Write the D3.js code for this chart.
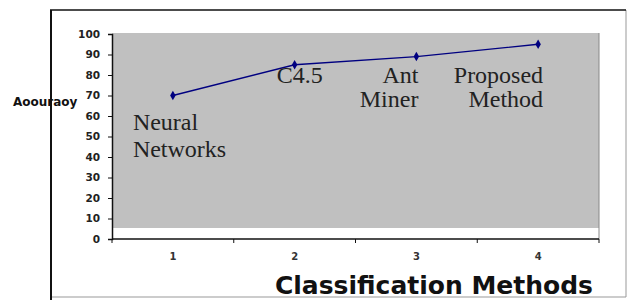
<!DOCTYPE html>
<html lang="en">
<head>
<meta charset="UTF-8">
<title>Accuracy by classification method</title>
<script src="https://d3js.org/d3.v7.min.js"></script>
<style>
  body { margin: 0; background: #fff; }
  svg { display: block; }
</style>
</head>
<body>
<svg></svg>
<script>
    // data
    const methods = [1, 2, 3, 4];
    const accuracy = [70, 85, 89, 95];
    const methodNames = [["Neural", "Networks"], ["C4.5"], ["Ant", "Miner"], ["Proposed", "Method"]];
    const yTicks = [0, 10, 20, 30, 40, 50, 60, 70, 80, 90, 100];

    let width = 627, height = 300;
    let svg = d3.select("svg").attr("width", width).attr("height", height);
    const sans = "'DejaVu Sans', Verdana, sans-serif";
    const serif = "'Liberation Serif', Tinos, 'Times New Roman', 'DejaVu Serif', serif";

    // outer frame
    svg.append("line").attr("x1", 626).attr("y1", 10).attr("x2", 626).attr("y2", 297)
        .attr("stroke", "#999").attr("stroke-width", 1);
    svg.append("line").attr("x1", 50).attr("y1", 297).attr("x2", 626).attr("y2", 297)
        .attr("stroke", "#999").attr("stroke-width", 1);
    svg.append("line").attr("x1", 50).attr("y1", 10).attr("x2", 626).attr("y2", 10)
        .attr("stroke", "#111").attr("stroke-width", 1.5);
    svg.append("line").attr("x1", 51).attr("y1", 10).attr("x2", 51).attr("y2", 300)
        .attr("stroke", "#111").attr("stroke-width", 2);

    let pLeft = 112, pRight = 599, pTop = 34, pBottom = 239;

    let x = d3.scaleBand().domain(methods).range([pLeft, pRight]);
    let y = d3.scaleLinear().domain([0, 100]).range([pBottom, pTop]);

    // plot area (grey stops a little above the axis)
    svg.append("rect")
        .attr("x", pLeft).attr("y", pTop - 1)
        .attr("width", pRight - pLeft).attr("height", 228 - pTop + 1)
        .attr("fill", "#c0c0c0");
    svg.append("line").attr("x1", pRight).attr("y1", pTop - 1).attr("x2", pRight).attr("y2", pBottom)
        .attr("stroke", "#888");

    // y axis
    let yAxis = svg.append("g")
        .attr("transform", "translate(" + pLeft + ",0)")
        .call(d3.axisLeft(y).tickValues(yTicks).tickSize(4).tickPadding(8));
    yAxis.select(".domain").attr("stroke", "#111").attr("stroke-width", 1.5);
    yAxis.selectAll(".tick line").attr("stroke", "#111");
    yAxis.selectAll(".tick text")
        .attr("font-family", sans)
        .attr("font-weight", "bold").attr("font-size", 10.5).attr("fill", "#222");

    // x axis: ticks at band edges, labels at band centres
    let xAxis = svg.append("g").attr("transform", "translate(0," + pBottom + ")");
    xAxis.append("line").attr("x1", pLeft).attr("x2", pRight)
        .attr("stroke", "#111").attr("stroke-width", 1.5);
    xAxis.selectAll("line.tk")
        .data(methods.concat(["end"]))
        .enter().append("line")
        .attr("class", "tk")
        .attr("x1", d => d === "end" ? pRight : x(d))
        .attr("x2", d => d === "end" ? pRight : x(d))
        .attr("y1", 0).attr("y2", 4)
        .attr("stroke", "#111");
    xAxis.selectAll("text")
        .data(methods)
        .enter().append("text")
        .attr("x", d => x(d) + x.bandwidth() / 2)
        .attr("y", 21)
        .attr("text-anchor", "middle")
        .attr("font-family", sans)
        .attr("font-weight", "bold").attr("font-size", 10).attr("fill", "#333")
        .text(d => d);

    // axis titles
    svg.append("text")
        .attr("x", 13).attr("y", 106)
        .attr("font-family", sans)
        .attr("font-weight", "bold").attr("font-size", 12).attr("fill", "#111")
        .text("Aoouraoy");
    svg.append("text")
        .attr("x", 593).attr("y", 294)
        .attr("text-anchor", "end")
        .attr("font-family", sans)
        .attr("font-weight", "bold").attr("font-size", 25).attr("fill", "#111")
        .text("Classification Methods");

    // line + diamond markers
    let pts = methods.map((m, i) => [x(m) + x.bandwidth() / 2, y(accuracy[i])]);
    svg.append("path")
        .attr("d", d3.line()(pts))
        .attr("fill", "none").attr("stroke", "#000080").attr("stroke-width", 1.3);
    svg.selectAll("path.pt")
        .data(pts)
        .enter().append("path")
        .attr("class", "pt")
        .attr("transform", d => "translate(" + d[0] + "," + d[1] + ")")
        .attr("d", d3.symbol().type(d3.symbolDiamond).size(26))
        .attr("fill", "#000080");

    // method name annotations
    let notes = [
        { i: 0, dx: -40, dy: 34, gap: 27, anchor: "start" },
        { i: 1, dx: -18, dy: 18, gap: 24, anchor: "start" },
        { i: 2, dx: 2, dy: 26, gap: 24, anchor: "end" },
        { i: 3, dx: 5, dy: 39, gap: 24, anchor: "end" }
    ];
    notes.forEach(n => {
        let t = svg.append("text")
            .attr("x", pts[n.i][0] + n.dx).attr("y", pts[n.i][1] + n.dy)
            .attr("text-anchor", n.anchor)
            .style("font-family", serif)
            .attr("font-size", 24).attr("fill", "#222");
        methodNames[n.i].forEach((s, k) => {
            t.append("tspan").attr("x", pts[n.i][0] + n.dx).attr("dy", k === 0 ? 0 : n.gap).text(s);
        });
    });
</script>
</body>
</html>
